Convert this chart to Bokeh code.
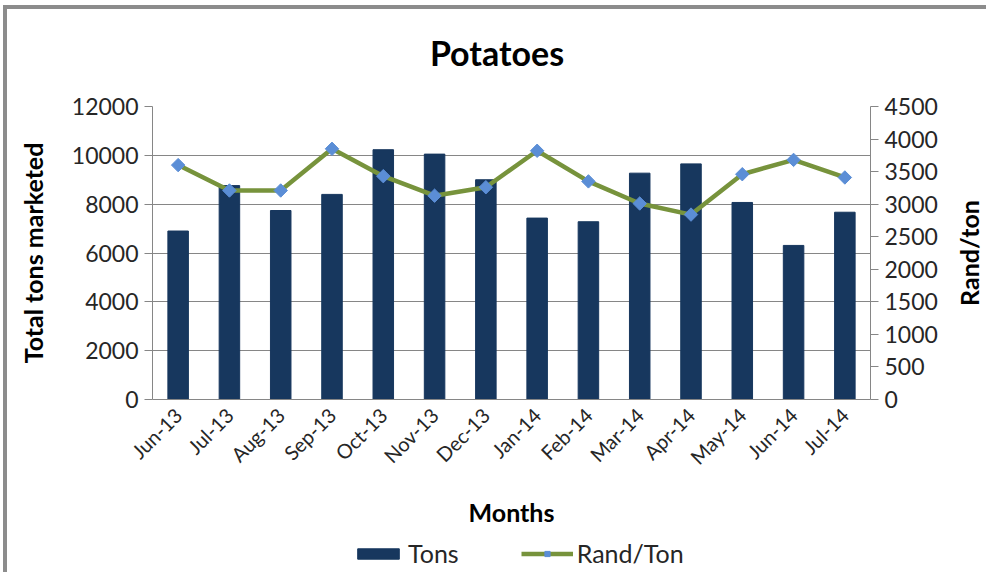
import numpy as np
from bokeh.plotting import figure
from bokeh.layouts import column, row
from bokeh.models import (Range1d, LinearAxis, FixedTicker, Legend, LegendItem, FactorRange)
from bokeh.core.properties import value
from bokeh.embed import file_html
from bokeh.resources import INLINE

months = ["Jun-13", "Jul-13", "Aug-13", "Sep-13", "Oct-13", "Nov-13", "Dec-13",
          "Jan-14", "Feb-14", "Mar-14", "Apr-14", "May-14", "Jun-14", "Jul-14"]
tons = [6900, 8760, 7740, 8400, 10230, 10050, 9000,
        7430, 7280, 9270, 9650, 8070, 6310, 7670]
rand_per_ton = [3600, 3210, 3210, 3850, 3430, 3130, 3260,
                3820, 3350, 3010, 2840, 3460, 3680, 3410]
left_ticks = [0, 2000, 4000, 6000, 8000, 10000, 12000]
right_ticks = [0, 500, 1000, 1500, 2000, 2500, 3000, 3500, 4000, 4500]
title_text = "Potatoes"
left_label = "Total tons marketed"
right_label = "Rand/ton"
x_label = "Months"
series_names = ["Tons", "Rand/Ton"]

FONT = "Lato"
TXT = "#262626"
GRAY = "#868686"
BAR = "#17375E"
LINE = "#77933C"
MARK = "#5B8ED6"

TOTAL_W = 979
MAIN_W = 943
FRAME_W, FRAME_H = 718, 293
TOP, BOTTOM, LEFT = 17, 137, 145
TITLE_H = 80
LEGEND_H = 36


def blank(width, height, **kw):
    f = figure(width=width, height=height, x_range=Range1d(0, 1), y_range=Range1d(0, 1),
               x_axis_type=None, y_axis_type=None, output_backend="svg", toolbar_location=None,
               min_border=0, **kw)
    f.grid.visible = False
    f.outline_line_color = None
    f.background_fill_color = "white"
    f.border_fill_color = "white"
    return f


# title
pt = blank(TOTAL_W, TITLE_H)
pt.text(x=[0.5], y=[0.46], text=[title_text], text_align="center", text_baseline="middle",
        text_font=value(FONT), text_font_size="34px", text_font_style="bold", text_color="black")

# main chart
p = figure(width=MAIN_W, height=TOP + FRAME_H + BOTTOM, x_range=FactorRange(*months),
           y_range=Range1d(0, 12000), output_backend="svg", toolbar_location=None,
           min_border_left=LEFT, min_border_right=MAIN_W - LEFT - FRAME_W,
           min_border_top=TOP, min_border_bottom=BOTTOM)
p.outline_line_color = None
p.background_fill_color = "white"
p.border_fill_color = "white"

p.vbar(x=months, top=tons, width=0.4, color=BAR)
p.extra_y_ranges = {"r": Range1d(0, 4500)}
p.line(x=months, y=rand_per_ton, y_range_name="r", line_color=LINE, line_width=4.5)
p.scatter(x=months, y=rand_per_ton, y_range_name="r", marker="square", angle=np.pi / 4,
          size=9.5, fill_color=MARK, line_color=MARK)

raxis = LinearAxis(y_range_name="r", ticker=FixedTicker(ticks=right_ticks))
p.add_layout(raxis, "right")
p.yaxis[0].ticker = FixedTicker(ticks=left_ticks)
p.yaxis[0].axis_label = left_label

for ax in p.yaxis:
    ax.axis_line_color = GRAY
    ax.major_tick_line_color = GRAY
    ax.major_tick_out = 8
    ax.major_tick_in = 0
    ax.minor_tick_line_color = None
    ax.major_label_text_font = FONT
    ax.major_label_text_font_size = "23px"
    ax.major_label_text_color = TXT
    ax.axis_label_text_font = FONT
    ax.axis_label_text_font_size = "25px"
    ax.axis_label_text_font_style = "bold"
    ax.axis_label_text_color = "black"
    ax.major_label_standoff = 6
p.yaxis[0].axis_label_standoff = 21

xa = p.xaxis[0]
xa.axis_line_color = GRAY
xa.major_tick_line_color = None
xa.minor_tick_line_color = None
xa.major_label_orientation = np.pi / 4
xa.major_label_text_font = FONT
xa.major_label_text_font_size = "20px"
xa.major_label_text_color = TXT
xa.major_label_standoff = 6
xa.axis_label = x_label
xa.axis_label_text_font = FONT
xa.axis_label_text_font_size = "25px"
xa.axis_label_text_font_style = "bold"
xa.axis_label_text_color = "black"
xa.axis_label_standoff = 17

p.xgrid.grid_line_color = None
p.ygrid.grid_line_color = GRAY
p.ygrid.ticker = FixedTicker(ticks=left_ticks)

# right axis title (reads bottom to top)
pr = figure(width=TOTAL_W - MAIN_W, height=TOP + FRAME_H + BOTTOM, x_range=Range1d(0, 1),
            y_range=Range1d(0, 1), x_axis_type=None, y_axis_type=None, output_backend="svg",
            toolbar_location=None, min_border_left=0, min_border_right=0,
            min_border_top=TOP, min_border_bottom=BOTTOM)
pr.grid.visible = False
pr.outline_line_color = None
pr.background_fill_color = "white"
pr.border_fill_color = "white"
pr.text(x=[0.5], y=[0.5], text=[right_label], angle=np.pi / 2, text_align="center",
        text_baseline="middle", text_font=value(FONT), text_font_size="25px",
        text_font_style="bold", text_color="black")

# legend strip (proxy renderers carry no visible data)
pl = blank(TOTAL_W, LEGEND_H)
lb = pl.vbar(x=[np.nan], top=[np.nan], width=0.4, color=BAR)
ll = pl.line(x=[np.nan], y=[np.nan], line_color=LINE, line_width=4.5)
ls = pl.scatter(x=[np.nan], y=[np.nan], marker="square", angle=np.pi / 4, size=9.5,
                fill_color=MARK, line_color=MARK)
legend = Legend(items=[LegendItem(label=series_names[0], renderers=[lb]),
                       LegendItem(label=series_names[1], renderers=[ll, ls])],
                orientation="horizontal", location=(345, 4),
                label_text_font=FONT, label_text_font_size="25px", label_text_color=TXT,
                label_text_baseline="middle",
                glyph_width=52, glyph_height=13, spacing=62, border_line_color=None,
                background_fill_alpha=0, padding=0, margin=0, label_standoff=4,
                label_height=30)
pl.add_layout(legend)

layout = column(pt, row(p, pr), pl,
                styles={"border-top": "4px solid #8c8c8c", "border-left": "4px solid #8c8c8c",
                        "margin-top": "5px", "margin-left": "3px"})

open("out.html", "w").write(file_html(layout, INLINE))
